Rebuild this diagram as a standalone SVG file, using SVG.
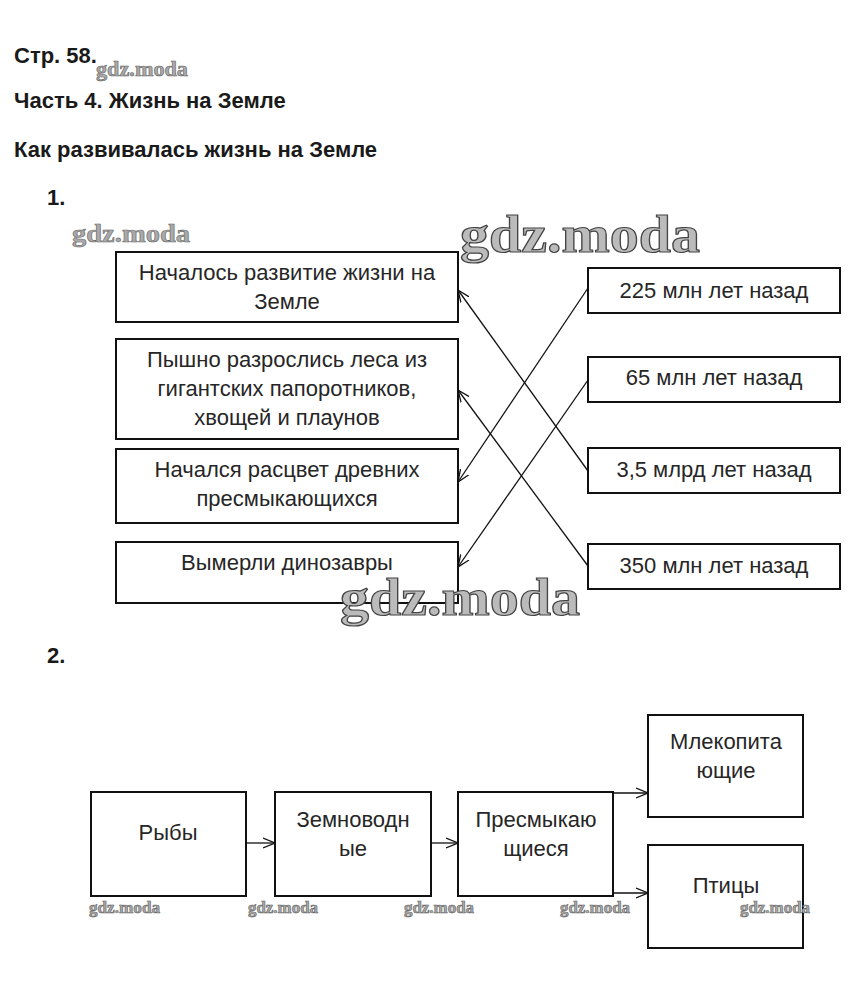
<svg xmlns="http://www.w3.org/2000/svg" width="855" height="997" viewBox="0 0 855 997">
<style>
.h{font-family:"Liberation Sans",Arial,sans-serif;font-weight:bold;font-size:22px;fill:#1a1a1a}
.t{font-family:"Liberation Sans",Arial,sans-serif;font-size:22px;fill:#262626;text-anchor:middle}
.box{fill:#fff;stroke:#111;stroke-width:2}
.ln{stroke:#111;stroke-width:1.3;fill:none}
.wm{font-family:"Liberation Serif","Times New Roman",serif;font-weight:bold;fill:#aaa;stroke:#666;stroke-width:0.6}
.wb{font-family:"Liberation Serif","Times New Roman",serif;font-weight:bold;fill:#bbb;stroke:#444;stroke-width:1.2}
</style>
<defs>
<marker id="ar" viewBox="0 0 12 12" refX="12" refY="6" markerWidth="12" markerHeight="12" markerUnits="userSpaceOnUse" orient="auto">
<path d="M0,1 L12,6 L0,11" fill="none" stroke="#111" stroke-width="1.3"/>
</marker>
</defs>
<rect width="855" height="997" fill="#fff"/>
<text class="h" x="14" y="63">Стр. 58.</text>
<text class="h" x="14" y="108">Часть 4. Жизнь на Земле</text>
<text class="h" x="14" y="157">Как развивалась жизнь на Земле</text>
<text class="h" x="47" y="205">1.</text>
<text class="h" x="47" y="663">2.</text>

<g id="l1"><rect class="box" x="116" y="252" width="342" height="70"/>
<text class="t" x="287" y="280">Началось развитие жизни на</text>
<text class="t" x="287" y="309">Земле</text></g>
<g id="l2"><rect class="box" x="116" y="339" width="342" height="100"/>
<text class="t" x="287" y="367">Пышно разрослись леса из</text>
<text class="t" x="287" y="396">гигантских папоротников,</text>
<text class="t" x="287" y="425">хвощей и плаунов</text></g>
<g id="l3"><rect class="box" x="116" y="449" width="342" height="74"/>
<text class="t" x="287" y="477">Начался расцвет древних</text>
<text class="t" x="287" y="506">пресмыкающихся</text></g>
<g id="l4"><rect class="box" x="116" y="542" width="342" height="61"/>
<text class="t" x="287" y="570">Вымерли динозавры</text></g>

<g id="r1"><rect class="box" x="588" y="268" width="252" height="45"/>
<text class="t" x="714" y="298">225 млн лет назад</text></g>
<g id="r2"><rect class="box" x="588" y="357" width="252" height="45"/>
<text class="t" x="714" y="385">65 млн лет назад</text></g>
<g id="r3"><rect class="box" x="588" y="448" width="252" height="45"/>
<text class="t" x="714" y="477">3,5 млрд лет назад</text></g>
<g id="r4"><rect class="box" x="588" y="544" width="252" height="45"/>
<text class="t" x="714" y="573">350 млн лет назад</text></g>

<g id="p1"><rect class="box" x="91" y="792" width="155" height="104"/>
<text class="t" x="168" y="840">Рыбы</text></g>
<g id="p2"><rect class="box" x="275" y="792" width="156" height="104"/>
<text class="t" x="353" y="827">Земноводн</text>
<text class="t" x="353" y="856">ые</text></g>
<g id="p3"><rect class="box" x="458" y="792" width="155" height="104"/>
<text class="t" x="536" y="827">Пресмыкаю</text>
<text class="t" x="536" y="856">щиеся</text></g>
<g id="p4"><rect class="box" x="648" y="715" width="155" height="102"/>
<text class="t" x="726" y="749">Млекопита</text>
<text class="t" x="726" y="778">ющие</text></g>
<g id="p5"><rect class="box" x="648" y="845" width="155" height="103"/>
<text class="t" x="726" y="893">Птицы</text></g>

<g id="connectors">
<line class="ln" x1="588" y1="471" x2="458" y2="290" marker-end="url(#ar)"/>
<line class="ln" x1="588" y1="566" x2="458" y2="390" marker-end="url(#ar)"/>
<line class="ln" x1="588" y1="288" x2="458" y2="482" marker-end="url(#ar)"/>
<line class="ln" x1="588" y1="380" x2="458" y2="567" marker-end="url(#ar)"/>
<line class="ln" x1="246" y1="843" x2="275" y2="843" marker-end="url(#ar)"/>
<line class="ln" x1="431" y1="843" x2="458" y2="843" marker-end="url(#ar)"/>
<line class="ln" x1="613" y1="793" x2="648" y2="793" marker-end="url(#ar)"/>
<line class="ln" x1="613" y1="893" x2="648" y2="893" marker-end="url(#ar)"/>
</g>

<g id="watermarks">
<text class="wm" x="96" y="76" font-size="21" textLength="92" lengthAdjust="spacingAndGlyphs">gdz.moda</text>
<text class="wm" x="72" y="242" font-size="26" textLength="118" lengthAdjust="spacingAndGlyphs">gdz.moda</text>
<text class="wb" x="460" y="252" font-size="52" textLength="240" lengthAdjust="spacingAndGlyphs">gdz.moda</text>
<text class="wb" x="340" y="615" font-size="52" textLength="240" lengthAdjust="spacingAndGlyphs">gdz.moda</text>
<text class="wm" x="89" y="913" font-size="16" textLength="71" lengthAdjust="spacingAndGlyphs">gdz.moda</text>
<text class="wm" x="248" y="913" font-size="16" textLength="70" lengthAdjust="spacingAndGlyphs">gdz.moda</text>
<text class="wm" x="404" y="913" font-size="16" textLength="70" lengthAdjust="spacingAndGlyphs">gdz.moda</text>
<text class="wm" x="560" y="913" font-size="16" textLength="70" lengthAdjust="spacingAndGlyphs">gdz.moda</text>
<text class="wm" x="740" y="913" font-size="16" textLength="70" lengthAdjust="spacingAndGlyphs">gdz.moda</text>
</g>
</svg>
